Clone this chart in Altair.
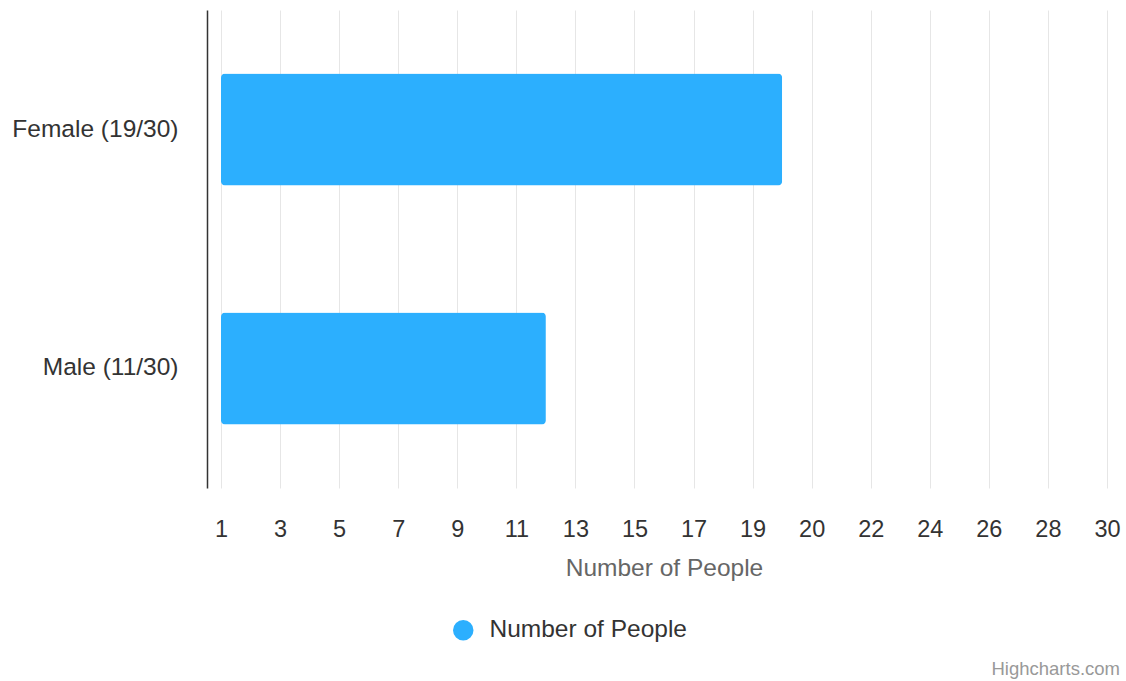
import json
import altair as alt
import pandas as pd

# Data
categories = ["Female (19/30)", "Male (11/30)"]
people = [19, 11]
series_name = "Number of People"
tick_values = list(range(0, 31, 2))
tick_labels = ["1", "3", "5", "7", "9", "11", "13", "15", "17", "19",
               "20", "22", "24", "26", "28", "30"]

df = pd.DataFrame({"category": categories, "people": people, "series": series_name})

FONT = "Liberation Sans"
BLUE = "#2caffe"

label_expr = json.dumps(tick_labels) + "[round(datum.value / 2)]"

bars = alt.Chart(df).mark_bar(cornerRadius=4, color=BLUE).encode(
    y=alt.Y(
        "category:N",
        sort=categories,
        scale=alt.Scale(paddingInner=0.531, paddingOuter=0.2657),
        axis=alt.Axis(
            title=None,
            offset=14,
            ticks=False,
            grid=False,
            domain=True,
            domainColor="#333333",
            domainWidth=1.5,
            labelFont=FONT,
            labelFontSize=24.5,
            labelColor="#333333",
            labelPadding=29,
            labelLimit=0,
        ),
    ),
    x=alt.X(
        "people:Q",
        scale=alt.Scale(domain=[0, 30], nice=False),
        axis=alt.Axis(
            title=series_name,
            values=tick_values,
            labelExpr=label_expr,
            labelFlush=False,
            labelOverlap=False,
            ticks=False,
            domain=False,
            grid=True,
            gridColor="#e6e6e6",
            gridWidth=1,
            labelFont=FONT,
            labelFontSize=23.5,
            labelColor="#333333",
            labelPadding=29,
            titleFont=FONT,
            titleFontSize=24.5,
            titleFontWeight="normal",
            titleColor="#666666",
            titlePadding=16,
        ),
    ),
    color=alt.Color(
        "series:N",
        scale=alt.Scale(domain=[series_name], range=[BLUE]),
        legend=alt.Legend(
            title=None,
            orient="none",
            legendX=230,
            legendY=608,
            symbolType="circle",
            symbolSize=420,
            symbolStrokeWidth=0,
            labelFont=FONT,
            labelFontSize=24.5,
            labelColor="#333333",
            labelOffset=14,
            labelLimit=0,
        ),
    ),
)

credits = alt.Chart(pd.DataFrame({"t": ["Highcharts.com"]})).mark_text(
    align="right", baseline="middle", font=FONT, fontSize=18.5, color="#999999"
).encode(text="t:N", x=alt.value(899), y=alt.value(659))

chart = (
    alt.layer(bars, credits)
    .properties(
        width=886,
        height=478,
        autosize=alt.AutoSizeParams(type="none"),
        padding={"left": 221, "top": 10, "right": 19, "bottom": 193},
        background="white",
    )
    .configure_view(stroke=None)
)

chart.save("out.html", embed_options={"renderer": "svg", "actions": False})
